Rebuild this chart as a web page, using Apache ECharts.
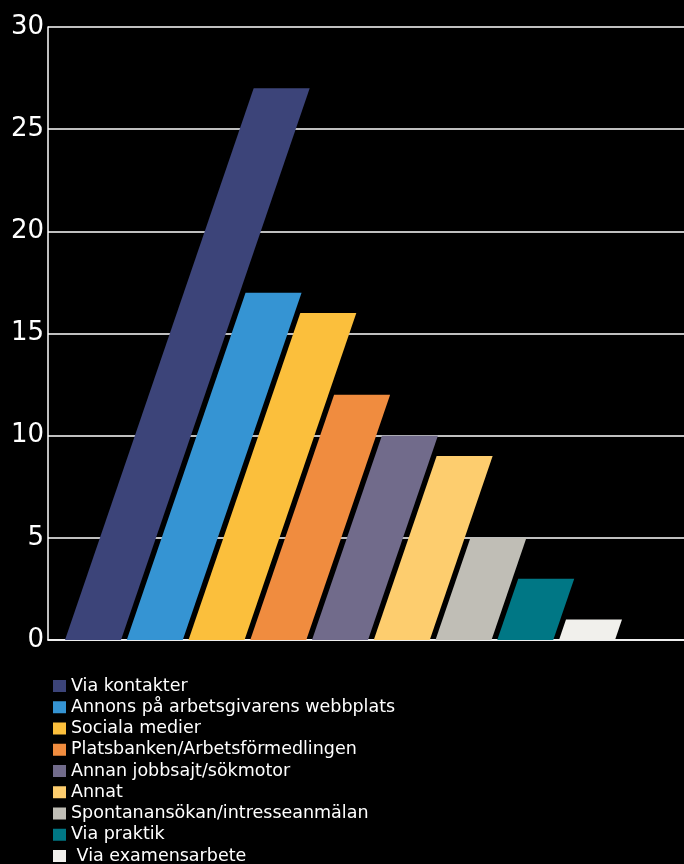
<!DOCTYPE html>
<html>
<head>
<meta charset="utf-8">
<style>
html,body{margin:0;padding:0;background:#000;}
#chart{width:684px;height:864px;}
</style>
<script src="https://cdn.jsdelivr.net/npm/echarts@6/dist/echarts.min.js"></script>
</head>
<body>
<div id="chart"></div>
<script>
const categories = [
  'Via kontakter',
  'Annons på arbetsgivarens webbplats',
  'Sociala medier',
  'Platsbanken/Arbetsförmedlingen',
  'Annan jobbsajt/sökmotor',
  'Annat',
  'Spontanansökan/intresseanmälan',
  'Via praktik',
  ' Via examensarbete'
];
const values = [27, 17, 16, 12, 10, 9, 5, 3, 1];
const colors = ['#3c4479', '#3594d3', '#fbbf3c', '#f08c3f', '#716b8b', '#fdcd6e', '#c0beb6', '#007785', '#f1f0ec'];
const yTicks = [0, 5, 10, 15, 20, 25, 30];

const BAR_W = 0.907;   // bar width in band units
const SLANT = 0.342;   // horizontal shift per vertical pixel

const chart = echarts.init(document.getElementById('chart'));

const series = categories.map((name, i) => ({
  name: name,
  type: 'custom',
  itemStyle: { color: colors[i] },
  data: [[i, values[i]]],
  renderItem: function (params, api) {
    const x = api.value(0), v = api.value(1);
    const b0 = api.coord([x, 0]);
    const b1 = api.coord([x + BAR_W, 0]);
    const t = api.coord([x, v]);
    const s = (b0[1] - t[1]) * SLANT;
    return {
      type: 'polygon',
      shape: { points: [[b0[0], b0[1]], [b1[0], b0[1]], [b1[0] + s, t[1]], [b0[0] + s, t[1]]] },
      style: { fill: colors[i] }
    };
  }
}));

chart.setOption({
  backgroundColor: '#000',
  animation: false,
  grid: { left: 48, right: 0, top: 27, bottom: 224, containLabel: false },
  xAxis: {
    type: 'value',
    min: -0.2753,
    max: -0.2753 + 636 / 61.75,
    axisLine: { show: true, onZero: false, lineStyle: { color: '#fff', width: 1.5 } },
    axisTick: { show: false },
    axisLabel: { show: false },
    splitLine: { show: false }
  },
  yAxis: {
    type: 'value',
    min: yTicks[0],
    max: yTicks[yTicks.length - 1],
    interval: yTicks[1] - yTicks[0],
    axisLine: { show: true, onZero: false, lineStyle: { color: '#fff', width: 1.5 } },
    axisTick: { show: false },
    axisLabel: {
      color: '#fff',
      fontSize: 26,
      fontFamily: 'DejaVu Sans, sans-serif',
      margin: 4
    },
    splitLine: { show: true, lineStyle: { color: '#fff', width: 1.5 } }
  },
  legend: {
    orient: 'vertical',
    left: 53,
    top: 677,
    height: 200,
    padding: 0,
    icon: 'rect',
    itemWidth: 13,
    itemHeight: 12,
    itemGap: 3.25,
    data: categories,
    textStyle: {
      color: '#fff',
      fontSize: 17.5,
      fontFamily: 'DejaVu Sans, sans-serif'
    }
  },
  series: series
});
</script>
</body>
</html>
